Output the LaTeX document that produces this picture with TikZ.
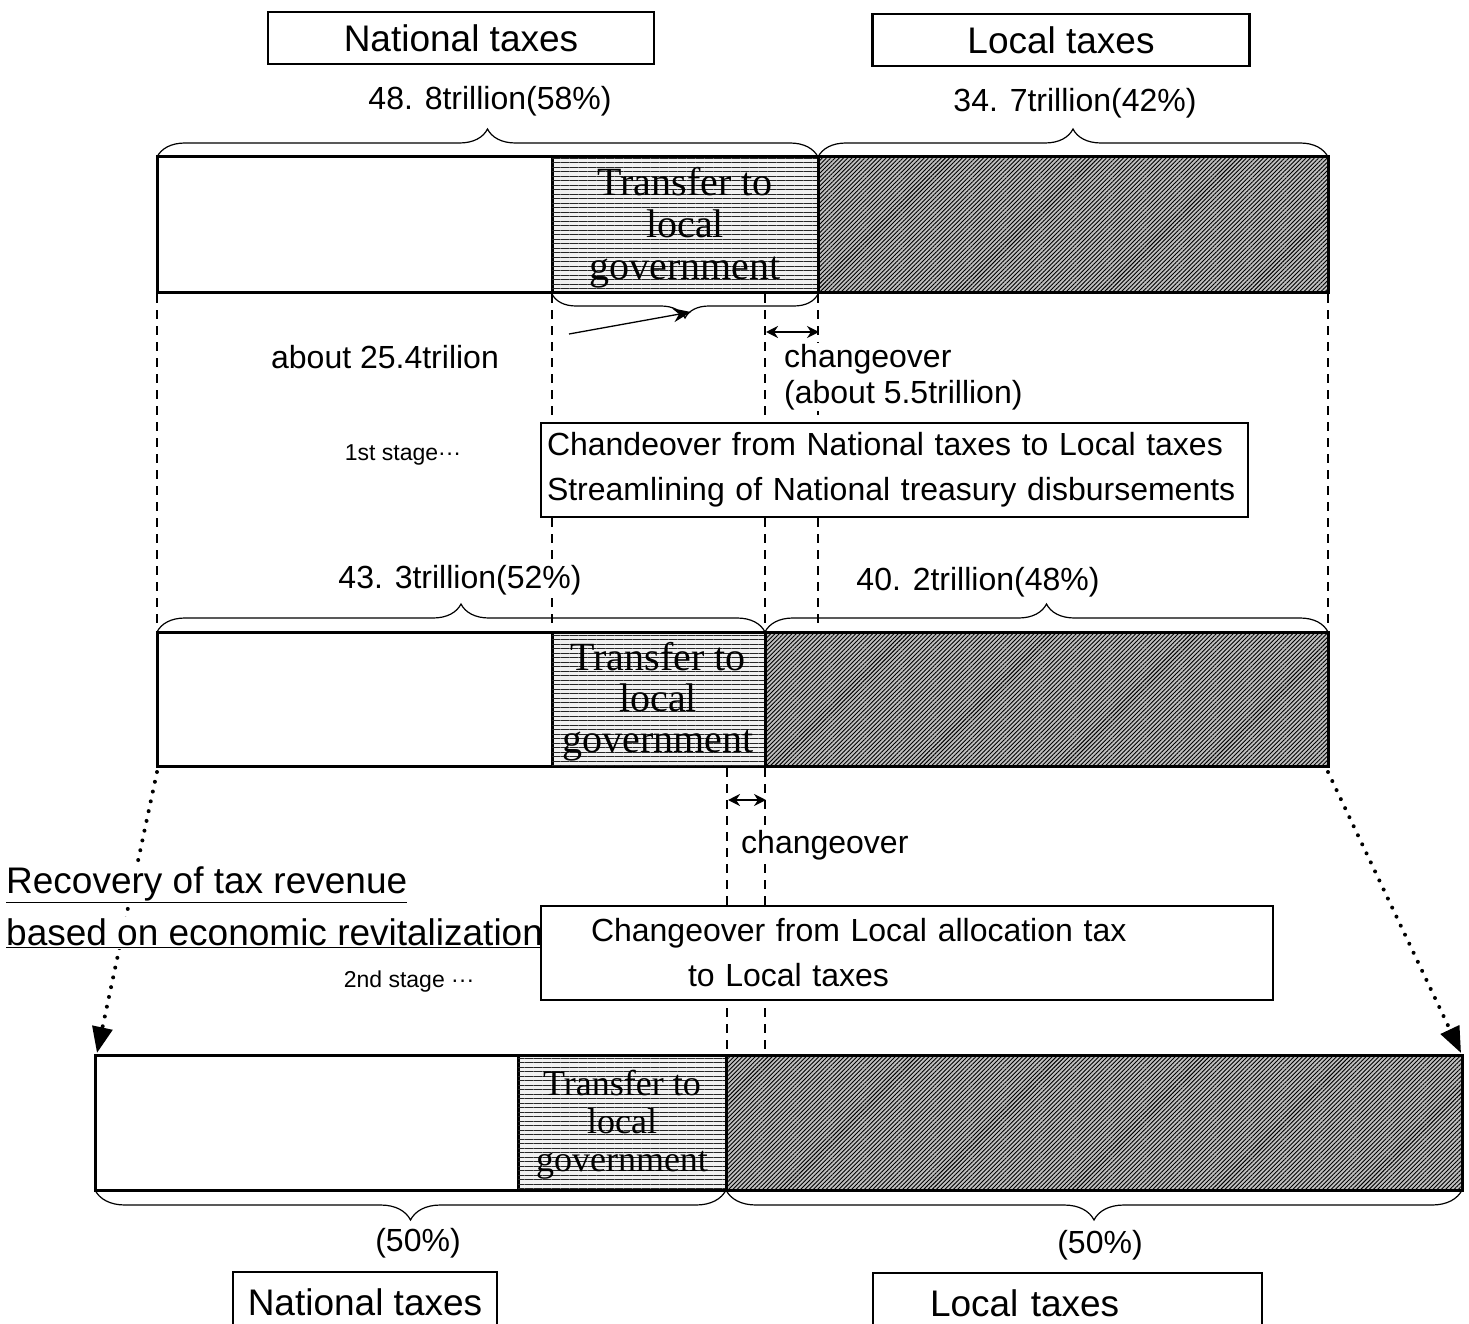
\documentclass[tikz,border=0pt]{standalone}
\usepackage{fontspec}
\setmainfont{Liberation Sans}
\newfontfamily\transferfont{Liberation Serif}
\usetikzlibrary{patterns.meta,decorations.pathreplacing,arrows.meta}

\begin{document}
\begin{tikzpicture}[x=1pt,y=-1pt,
  bar/.style={draw,line width=3pt},
  transfer/.style={bar,fill=gray!12,postaction={pattern={Lines[angle=0,distance=4.5pt,line width=1pt]},pattern color=black!85}},
  localpart/.style={bar,fill=gray!50,postaction={pattern={Lines[angle=45,distance=3pt,line width=0.9pt]},pattern color=black}},
  guide/.style={line width=1.8pt,dash pattern=on 9pt off 7pt},
  curly/.style={decorate,decoration={brace,amplitude=#1},line width=1.2pt},
  dotarrow/.style={line width=4pt,line cap=round,dash pattern=on 0pt off 10pt,-{Triangle[length=26pt,width=20pt]}},
  twoway/.style={line width=2pt,{Stealth[length=12pt,width=12pt]}-{Stealth[length=12pt,width=12pt]}},
  tag/.style={draw,line width=2.5pt,inner sep=0pt,font=\fontsize{37}{42}\selectfont},
  amount/.style={fill=white,inner sep=1pt,font=\fontsize{32}{38}\selectfont},
  note/.style={fill=white,inner sep=1pt,font=\fontsize{32}{36}\selectfont},
  stage/.style={font=\fontsize{23}{26}\selectfont},
  stepbox/.style={draw,line width=2.5pt,fill=white,inner xsep=6pt,inner ysep=0pt,align=left,font=\fontsize{32}{45}\selectfont},
  recover/.style={fill=white,inner sep=1pt,anchor=west,font=\fontsize{37}{42}\selectfont},
  transferlabel/.style 2 args={align=center,font=\transferfont\fontsize{#1}{#2}\selectfont}]

\useasboundingbox (0,0) rectangle (1469,1324);

% headings
\node[tag,minimum width=386,minimum height=52] (nattop) at (461,38) {National taxes};
\node[tag,minimum width=377,minimum height=52] (loctop) at (1061,40) {Local taxes};

% first bar
\node[amount] (natA) at (490,101) {48. 8trillion(58\%)};
\node[amount] (locA) at (1075,103) {34. 7trillion(42\%)};
\draw[curly=28pt] (157,157) -- (818,157);
\draw[curly=28pt] (818,157) -- (1328,157);
\draw[bar] (157,157) rectangle (552,292);
\draw[transfer] (552,157) rectangle (818,292);
\draw[localpart] (818,157) rectangle (1328,292);
\node[transferlabel={40}{42}] (trA) at (685,228) {Transfer to\\local\\government};

\foreach \x in {157,552,765,818,1328}
  \draw[guide] (\x,294) -- (\x,630);
\draw[curly=24pt] (818,294) -- (552,294);
\coordinate (tipA) at (691,312);
\coordinate (fromA) at (569,334);
\draw[line width=1.3pt,-{Stealth[length=18pt,width=14pt]}] (fromA) -- (tipA);
\coordinate (cA) at (766,332);
\coordinate (cB) at (819,332);
\draw[twoway] (cA) -- (cB);
\node[amount] (about) at (385,357) {about 25.4trilion};
\node[note,anchor=west,align=left] (chgA) at (783,377) {changeover\\(about 5.5trillion)};

\node[stage] (first) at (403,455) {1st stage···};
\node[stepbox,text width=695,minimum height=94] (boxA) at (894.5,470)
  {Chandeover from National taxes to Local taxes\\Streamlining of National treasury disbursements};

% second bar
\node[amount] (natB) at (460,580) {43. 3trillion(52\%)};
\node[amount] (locB) at (978,582) {40. 2trillion(48\%)};
\draw[curly=28pt] (157,632) -- (765,632);
\draw[curly=28pt] (765,632) -- (1328,632);
\draw[bar] (157,632) rectangle (552,766);
\draw[transfer] (552,632) rectangle (765,766);
\draw[localpart] (765,632) rectangle (1328,766);
\node[transferlabel={40}{41}] (trB) at (658,702) {Transfer to\\local\\government};

\foreach \x in {727,765}
  \draw[guide] (\x,768) -- (\x,1053);
\coordinate (cC) at (728,800);
\coordinate (cD) at (766,800);
\draw[twoway] (cC) -- (cD);
\node[note,anchor=west] (chgB) at (740,845) {changeover};

\coordinate (leftA) at (157,772);
\coordinate (leftB) at (97,1053);
\coordinate (rightA) at (1328,772);
\coordinate (rightB) at (1461,1053);
\draw[dotarrow] (leftA) -- (leftB);
\draw[dotarrow] (rightA) -- (rightB);

\node[recover] (rec) at (5,885) {\underline{Recovery of tax revenue}};
\node[recover] (revit) at (5,933) {\underline{based on economic revitalization}};

\node[stage] (second) at (409,982) {2nd stage ···};
\node[stepbox,text width=720,minimum height=94] (boxB) at (907,953)
  {\hspace*{44pt}Changeover from Local allocation tax\\\hspace*{141pt}to Local taxes};

% third bar
\draw[bar] (95,1055) rectangle (518,1190);
\draw[transfer] (518,1055) rectangle (726,1190);
\draw[localpart] (726,1055) rectangle (1462,1190);
\node[transferlabel={36}{38}] (trC) at (622,1125) {Transfer to\\local\\government};
\draw[curly=30pt] (726,1190) -- (95,1190);
\draw[curly=30pt] (1462,1190) -- (726,1190);
\node[amount] (natC) at (418,1243) {(50\%)};
\node[amount] (locC) at (1100,1245) {(50\%)};

\node[tag,minimum width=264,minimum height=60] (natbot) at (365,1302) {National taxes};
\node[tag,text width=389,minimum height=60,align=left] (locbot) at (1067.5,1303) {\hspace*{57pt}Local taxes};
\end{tikzpicture}
\end{document}
